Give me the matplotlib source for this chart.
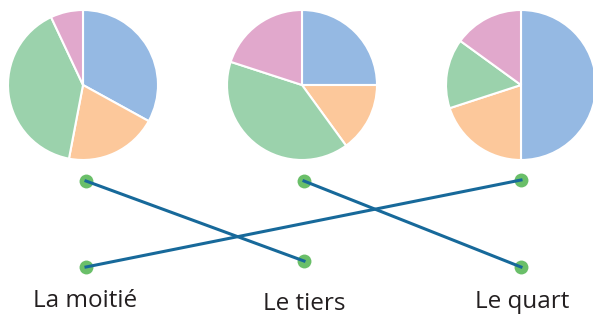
import matplotlib
matplotlib.use("Agg")
import matplotlib.pyplot as plt

W, H = 593, 315

# pie shares, clockwise from 12 o'clock: blue, orange, green, pink
colors = ["#95b9e3", "#fcc89b", "#9bd2ac", "#e1a8cc"]
pie_half_third = [0.33, 0.20, 0.40, 0.07]   # left pie
pie_quarter = [0.25, 0.15, 0.40, 0.20]      # middle pie
pie_half = [0.50, 0.20, 0.15, 0.15]         # right pie
pies = [pie_half_third, pie_quarter, pie_half]
pie_x = [83, 302, 521]
pie_y = 85
pie_r = 75

# matching dots (pixel coords, y down)
top_x = [86, 304, 521]
top_y = [181, 181, 180]
bot_x = [86, 304, 521]
bot_y = [267, 261, 267]
labels = ["La moitié", "Le tiers", "Le quart"]
label_x = [85, 304, 522]
label_base = [307, 310, 308]
# which bottom dot each top dot is linked to
links = [1, 2, 0]

fig = plt.figure(figsize=(W / 100, H / 100), dpi=100)
ax = fig.add_axes([0, 0, 1, 1])

def fy(y):
    return H - y

for vals, cx in zip(pies, pie_x):
    ax.pie(vals, colors=colors, startangle=90, counterclock=False,
           center=(cx, fy(pie_y)), radius=pie_r,
           wedgeprops=dict(edgecolor="white", linewidth=1.5))

for i, j in enumerate(links):
    ax.plot([top_x[i], bot_x[j]], [fy(top_y[i]), fy(bot_y[j])],
            color="#17699a", lw=2.2, zorder=3)

ax.plot(top_x, [fy(y) for y in top_y], "o", color="#6abf69", ms=10, mec="none", zorder=2)
ax.plot(bot_x, [fy(y) for y in bot_y], "o", color="#6abf69", ms=10, mec="none", zorder=2)

for x, y, t in zip(label_x, label_base, labels):
    ax.text(x, fy(y), t, ha="center", va="baseline", fontsize=17.5,
            family="Open Sans", color="#231f20")

ax.set_xlim(0, W)
ax.set_ylim(0, H)
ax.set_aspect("equal")
ax.axis("off")

fig.savefig("out.png", dpi=100)
